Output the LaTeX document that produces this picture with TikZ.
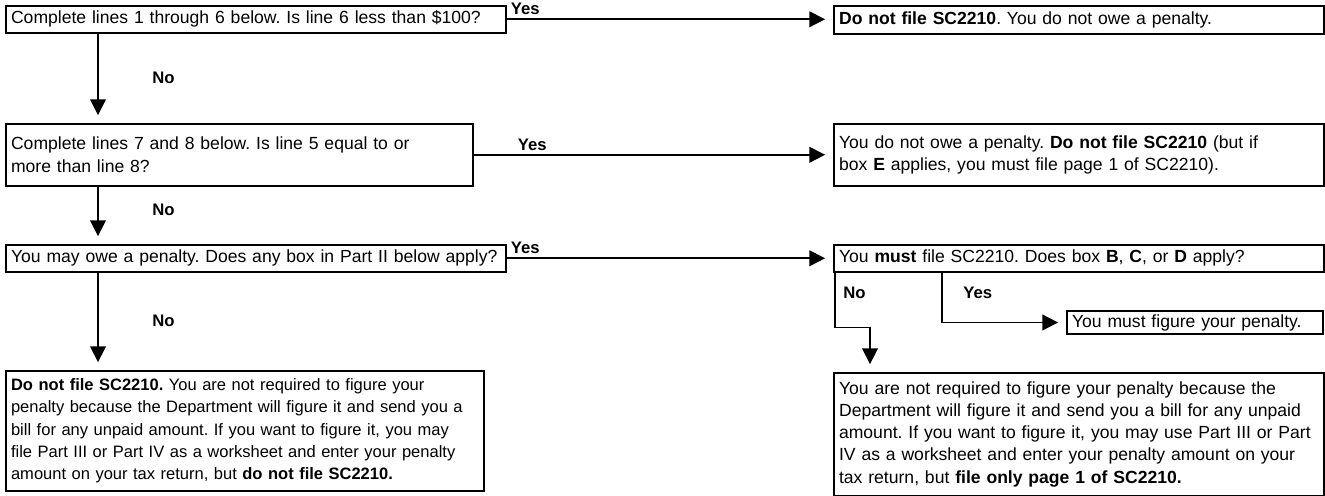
\documentclass[tikz,border=0pt]{standalone}
\usepackage{fontspec}
\setmainfont{Liberation Sans}
\frenchspacing
\usetikzlibrary{arrows.meta, positioning, calc}

\begin{document}
\begin{tikzpicture}[
    x=0.02cm, y=-0.02cm,
    >={Triangle[length=9pt, width=9pt]},
    line width=0.9pt,
    box/.style={draw, anchor=north west, align=left, text width=#1, inner xsep=3pt, inner ysep=2pt, font=\fontsize{10}{12.6}\selectfont},
    ans/.style={font=\fontsize{9.5}{11}\selectfont\bfseries, inner sep=2pt},
    flow/.style={->, shorten >=4.5pt}
]
\useasboundingbox (0,0) rectangle (1325,496);

% Questions on the left
\node (q1) [box=9.79cm, minimum height=0.54cm] at (5,5) {Complete lines 1 through 6 below. Is line 6 less than \$100?};
\node (q2) [box=9.13cm, minimum height=1.24cm] at (5,123) {Complete lines 7 and 8 below. Is line 5 equal to or\\ more than line 8?};
\node (q3) [box=9.79cm, minimum height=0.54cm] at (5,244) {You may owe a penalty. Does any box in Part II below apply?};
\node (end1) [box=9.35cm, minimum height=2.4cm, font=\fontsize{9.4}{12.6}\selectfont] at (5,370) {\textbf{Do not file SC2210.} You are not required to figure your\\ penalty because the Department will figure it and send you a\\ bill for any unpaid amount. If you want to figure it, you may\\ file Part III or Part IV as a worksheet and enter your penalty\\ amount on your tax return, but \textbf{do not file SC2210.}};

% Answers on the right
\node (r1) [box=9.59cm, minimum height=0.56cm] at (833,5) {\textbf{Do not file SC2210}. You do not owe a penalty.};
\node (r2) [box=9.59cm, minimum height=1.24cm] at (833,123) {You do not owe a penalty. \textbf{Do not file SC2210} (but if\\ box \textbf{E} applies, you must file page 1 of SC2210).};
\node (r3) [box=9.59cm, minimum height=0.54cm] at (833,244) {You \textbf{must} file SC2210. Does box \textbf{B}, \textbf{C}, or \textbf{D} apply?};
\node (fig) [box=4.91cm, minimum height=0.46cm] at (1066,310) {You must figure your penalty.};
\node (end2) [box=9.59cm, minimum height=2.46cm] at (833,372) {You are not required to figure your penalty because the\\ Department will figure it and send you a bill for any unpaid\\ amount. If you want to figure it, you may use Part III or Part\\ IV as a worksheet and enter your penalty amount on your\\ tax return, but \textbf{file only page 1 of SC2210.}};

% Yes arrows
\draw[flow] (q1.east) -- node[ans, pos=0, anchor=south west] {Yes} (q1.east -| r1.west);
\draw[flow] (q2.east) -- node[ans, pos=0, anchor=south west, xshift=0.8cm] {Yes} (q2.east -| r2.west);
\draw[flow] (q3.east) -- node[ans, pos=0, anchor=south west] {Yes} (q3.east -| r3.west);

% No arrows
\coordinate (n1) at ($(q1.south west)+(93,0)$);
\coordinate (n2) at ($(q2.south west)+(93,0)$);
\coordinate (n3) at ($(q3.south west)+(93,0)$);
\draw[flow] (n1) -- node[ans, anchor=west, xshift=1cm] {No} (n1 |- q2.north);
\draw[flow] (n2) -- node[ans, anchor=west, xshift=1cm, pos=0.4] {No} (n2 |- q3.north);
\draw[flow] (n3) -- node[ans, anchor=west, xshift=1cm] {No} (n3 |- end1.north);

% Branches of box B, C, D
\coordinate (bno) at ($(r3.south west)+(2,0)$);
\coordinate (byes) at ($(r3.south west)+(109,0)$);
\draw[flow] (bno) -- ++(0,55) coordinate (bturn) -- ++(35,0) coordinate (bdown) -- (bdown |- end2.north);
\draw[flow] (byes) |- (fig.west);
\node (lno) [ans, anchor=west] at ($(bno)+(4,20)$) {No};
\node (lyes) [ans, anchor=west] at ($(byes)+(17,20)$) {Yes};

\end{tikzpicture}
\end{document}
